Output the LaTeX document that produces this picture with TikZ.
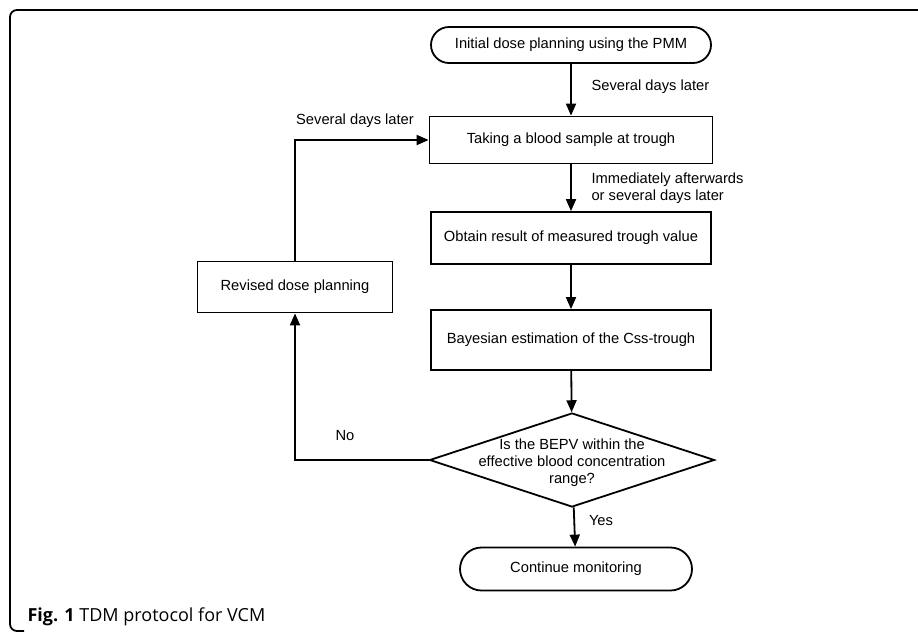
\documentclass[tikz,border=0pt]{standalone}
\usepackage{fontspec}
\setmainfont{Liberation Sans}
\newfontfamily\capfont{Open Sans}
\usetikzlibrary{arrows.meta,shapes.misc,shapes.geometric}
\begin{document}
\begin{tikzpicture}[x=1pt,y=-1pt,
      font=\fontsize{14.7}{17.5}\selectfont,
      terminal/.style={draw,line width=1.8pt,rounded rectangle,inner sep=0pt},
      procbox/.style={draw,line width=1.8pt,rectangle,inner sep=0pt},
      decision/.style={draw,line width=1.8pt,diamond,inner sep=0pt,
        minimum width=285pt,minimum height=94pt},
      flow/.style={line width=1.8pt,-{Triangle[length=12pt,width=10pt]}}]
      \useasboundingbox (0,0) rectangle (918,633);
      % frame of the figure
      \draw[line width=1.8pt,rounded corners=7pt] (918,10)--(10,10)--(10,631)--(24,631);
      \path (571,45) node[terminal,minimum width=280pt,minimum height=36pt] (start)
        {Initial dose planning using the PMM};
      \path (571,140) node[procbox,minimum width=283pt,minimum height=47pt] (sample)
        {Taking a blood sample at trough};
      \path (571,238) node[procbox,minimum width=280pt,minimum height=52pt] (result)
        {Obtain result of measured trough value};
      \path (571,340) node[procbox,minimum width=280pt,minimum height=60pt] (bayes)
        {Bayesian estimation of the Css-trough};
      \path (572,460) node[decision] (check) {};
      \path (572,463) node[align=center,font=\fontsize{14.7}{17}\selectfont] (checktext)
        {Is the BEPV within the\\effective blood concentration\\range?};
      \path (576,569) node[terminal,minimum width=232pt,minimum height=43pt] (monitor)
        {Continue monitoring};
      \path (295,287) node[procbox,minimum width=195pt,minimum height=51pt] (revised)
        {Revised dose planning};
      \draw[flow] (start)--(sample);
      \draw[flow] (sample)--(result);
      \draw[flow] (result)--(bayes);
      \draw[flow] (bayes)--(check);
      \draw[flow] (check)--(monitor);
      \draw[flow] (check.west)-|(revised.south);
      \draw[flow] (revised.north)|-(sample.west);
      \path (588,87) node[anchor=west] (later1) {Several days later};
      \path (588,188) node[anchor=west,align=left] (later2)
        {Immediately afterwards\\or several days later};
      \path (355,121) node (later3) {Several days later};
      \path (345,436) node (no) {No};
      \path (601,521) node (yes) {Yes};
      \path (24,617) node[anchor=west,font=\capfont\fontsize{18}{21}\selectfont] (caption)
        {\textbf{Fig. 1} TDM protocol for VCM};
     \end{tikzpicture}
\end{document}
